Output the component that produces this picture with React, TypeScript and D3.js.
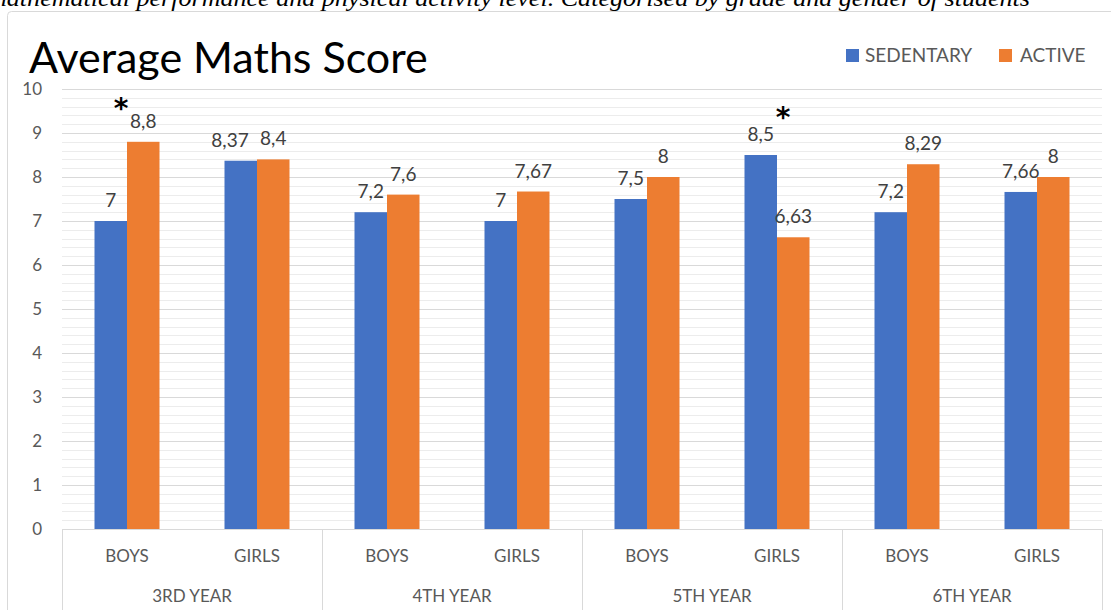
import React from "react";
import * as d3 from "d3";

const years = ["3RD YEAR", "4TH YEAR", "5TH YEAR", "6TH YEAR"];
const genders = ["BOYS", "GIRLS"];
const seriesNames = ["SEDENTARY", "ACTIVE"];
const sedentary = [7, 8.37, 7.2, 7, 7.5, 8.5, 7.2, 7.66];
const active = [8.8, 8.4, 7.6, 7.67, 8, 6.63, 8.29, 8];
const yTicks = [0, 1, 2, 3, 4, 5, 6, 7, 8, 9, 10];
const asterisks = [
  { index: 0, value: 9.7, dx: -6 },
  { index: 5, value: 9.5, dx: 6 },
];
const titleText = "Average Maths Score";
const captionText =
  "mathematical performance and physical activity level. Categorised by grade and gender of students";

const colors = ["#4472C4", "#ED7D31"];

const LABEL_SIZE = 19;
function labelWidth(s: string) {
  let w = 0;
  for (const ch of s) w += ch === "," ? 0.3 : 0.58;
  return w * LABEL_SIZE;
}

export default function App() {
  const W = 1111;
  const H = 610;
  const left = 62;
  const right = 1102;
  const top = 89;
  const bottom = 529;
  const font = "Lato, 'Open Sans', sans-serif";

  const cats = years.flatMap((y) => genders.map((g) => `${y}|${g}`));
  const x = d3.scaleBand<string>().domain(cats).range([left, right]).paddingInner(0).paddingOuter(0);
  const yearScale = d3.scaleBand<string>().domain(years).range([left, right]);
  const y = d3.scaleLinear().domain([0, 10]).range([bottom, top]);
  const bw = x.bandwidth();
  const barW = bw / 4;
  const minorTicks = d3.range(0, 50).map((i) => i * 0.2).filter((v) => Math.abs(v - Math.round(v)) > 1e-6);
  const fmt = (v: number) => String(v).replace(".", ",");
  const series = [sedentary, active];

  // label positions with simple collision avoidance (shift the sedentary label left)
  const labels = cats.map((c, i) => {
    const cx = (x(c) as number) + bw / 2;
    const pos = series.map((s, si) => ({
      text: fmt(s[i]),
      x: cx - barW / 2 + si * barW,
      y: y(s[i]) - 14,
    }));
    const a = pos[0];
    const b = pos[1];
    if (Math.abs(a.y - b.y) < 10) {
      const aRight = a.x + labelWidth(a.text) / 2;
      const bLeft = b.x - labelWidth(b.text) / 2;
      const gap = bLeft - aRight;
      if (gap < 10) a.x -= 10 - gap;
    }
    return pos;
  });

  return (
    <svg width={W} height={H} style={{ position: "absolute", left: 0, top: 0, background: "#fff" }}>
      <rect x={0} y={0} width={W} height={H} fill="#fff" />
      <text
        x={-12}
        y={6}
        fontFamily="'Liberation Serif', 'Times New Roman', serif"
        fontStyle="italic"
        fontSize={24}
        textLength={1042}
        lengthAdjust="spacingAndGlyphs"
        fill="#000"
      >
        {captionText}
      </text>
      <rect x={7.5} y={11.5} width={W + 20} height={H + 20} rx={4} fill="#fff" stroke="#d9d9d9" strokeWidth={1} />

      {minorTicks.map((v) => (
        <line key={"m" + v} x1={left} x2={right} y1={Math.round(y(v)) + 0.5} y2={Math.round(y(v)) + 0.5} stroke="#ececec" strokeWidth={1} />
      ))}
      {yTicks.map((v) => (
        <line key={"g" + v} x1={left} x2={right} y1={Math.round(y(v)) + 0.5} y2={Math.round(y(v)) + 0.5} stroke="#d9d9d9" strokeWidth={1} />
      ))}
      {yTicks.map((v) => (
        <text key={"t" + v} x={42} y={y(v)} dy="0.36em" textAnchor="end" fontFamily={font} fontSize={17} fill="#595959">
          {v}
        </text>
      ))}

      {cats.map((c, i) =>
        series.map((s, si) => {
          const cx = (x(c) as number) + bw / 2;
          const bx = cx - barW + si * barW;
          return <rect key={c + si} x={bx} y={y(s[i])} width={barW} height={bottom - y(s[i])} fill={colors[si]} />;
        })
      )}
      {labels.map((pos, i) =>
        pos.map((p, si) => (
          <text key={"l" + i + si} x={p.x} y={p.y} textAnchor="middle" fontFamily={font} fontSize={LABEL_SIZE} fill="#404040">
            {p.text}
          </text>
        ))
      )}
      {asterisks.map((a, k) => (
        <text
          key={"a" + k}
          x={(x(cats[a.index]) as number) + bw / 2 + a.dx}
          y={y(a.value) + 16}
          textAnchor="middle"
          fontFamily="'DejaVu Sans', sans-serif"
          fontWeight="bold"
          fontSize={28}
          fill="#000"
        >
          *
        </text>
      ))}

      <line x1={left} x2={right} y1={bottom + 0.5} y2={bottom + 0.5} stroke="#d9d9d9" />
      {years.map((yr) => (
        <line
          key={"v" + yr}
          x1={Math.round(yearScale(yr) as number) + 0.5}
          x2={Math.round(yearScale(yr) as number) + 0.5}
          y1={bottom}
          y2={H}
          stroke="#d9d9d9"
        />
      ))}
      <line x1={right + 0.5} x2={right + 0.5} y1={bottom} y2={H} stroke="#d9d9d9" />
      {cats.map((c) => (
        <text key={"c" + c} x={(x(c) as number) + bw / 2} y={562} textAnchor="middle" fontFamily={font} fontSize={17} fill="#595959">
          {c.split("|")[1]}
        </text>
      ))}
      {years.map((yr) => (
        <text
          key={"y" + yr}
          x={(yearScale(yr) as number) + yearScale.bandwidth() / 2}
          y={602}
          textAnchor="middle"
          fontFamily={font}
          fontSize={17}
          fill="#595959"
        >
          {yr}
        </text>
      ))}

      <text x={29} y={73} fontFamily={font} fontSize={43} fill="#000">
        {titleText}
      </text>

      <rect x={846} y={49} width={13} height={13} fill={colors[0]} />
      <text x={865} y={62} fontFamily={font} fontSize={19} fill="#595959">
        {seriesNames[0]}
      </text>
      <rect x={999} y={49} width={13} height={13} fill={colors[1]} />
      <text x={1020} y={62} fontFamily={font} fontSize={19} fill="#595959">
        {seriesNames[1]}
      </text>
    </svg>
  );
}
